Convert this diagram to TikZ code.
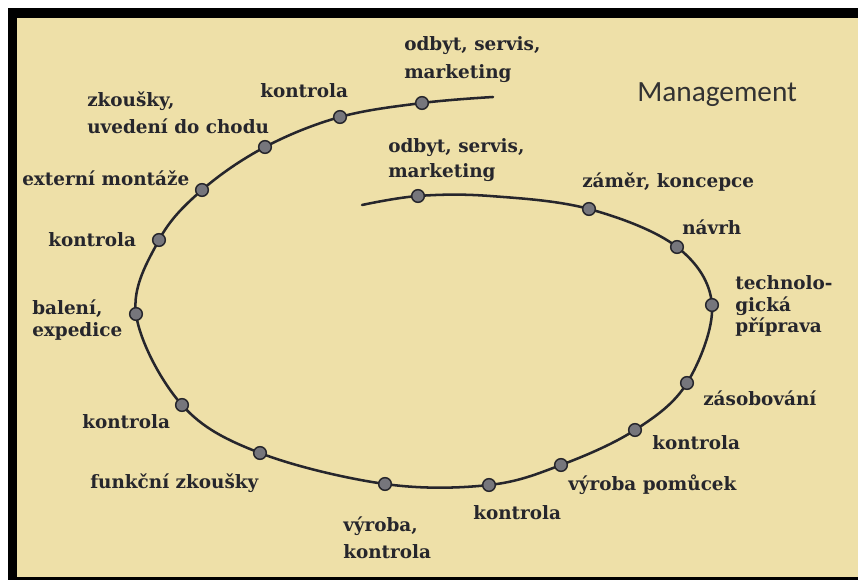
\documentclass[tikz,border=0pt]{standalone}
\usepackage{fontspec}
\setmainfont{DejaVu Serif}
\newfontfamily\mgmtfont{Carlito}
\definecolor{beige}{RGB}{238,224,168}
\definecolor{ink}{RGB}{38,38,44}
\definecolor{mgmtink}{RGB}{50,50,50}
\definecolor{dotfill}{RGB}{118,118,124}
\begin{document}
\begin{tikzpicture}[x=0.75pt,y=-0.75pt,
  lab/.style={text=ink, font=\bfseries\fontsize{13.8}{20}\selectfont, inner sep=0pt, align=left, anchor=west},
  dotn/.style={circle, draw=ink, fill=dotfill, line width=1.1pt, minimum size=9.5pt, inner sep=0pt},
  curve/.style={draw=ink, line width=1.9pt, line cap=round}]
\useasboundingbox (0,0) rectangle (858,580);
\fill[white] (0,0) rectangle (858,580);
\fill[black] (8,8) rectangle (858,580);
\fill[beige] (17,18) rectangle (858,577);

% curve points
\coordinate (s0) at (362,205);
\coordinate (d1) at (418,196);
\coordinate (c1) at (490,196);
\coordinate (d2) at (589,209);
\coordinate (d3) at (677,247);
\coordinate (d4) at (712,305);
\coordinate (d5) at (687,383);
\coordinate (d6) at (635,430);
\coordinate (d7) at (561,465);
\coordinate (d8) at (489,485);
\coordinate (d9) at (385,484);
\coordinate (d10) at (260,453);
\coordinate (d11) at (182,405);
\coordinate (d12) at (136,314);
\coordinate (d13) at (159,240);
\coordinate (d14) at (202,190);
\coordinate (d15) at (265,147);
\coordinate (d16) at (340,117);
\coordinate (d17) at (422,103);
\coordinate (e) at (493,97);

\draw[curve] plot[smooth, tension=0.6] coordinates {(s0) (d1) (c1) (d2) (d3) (d4) (d5) (d6) (d7) (d8) (d9) (d10) (d11) (d12) (d13) (d14) (d15) (d16) (d17) (e)};

\foreach \d in {d1,d2,d3,d4,d5,d6,d7,d8,d9,d10,d11,d12,d13,d14,d15,d16,d17}
  \node[dotn] (n\d) at (\d) {};

% labels
\node[lab] (l17) at (404,60) {odbyt, servis,\\[1pt]marketing};
\node[lab] (l16) at (260,91) {kontrola};
\node[lab] (l15) at (87,113) {zkoušky,\\uvedení do chodu};
\node[lab] (l14) at (22,178) {externí montáže};
\node[lab] (l13) at (48,240) {kontrola};
\node[lab] (l12) at (32,320) {balení,\\[-4pt]expedice};
\node[lab] (l11) at (82,422) {kontrola};
\node[lab] (l10) at (90,483) {funkční zkoušky};
\node[lab] (l9) at (343,538) {výroba,\\kontrola};
\node[lab] (l8) at (473,513) {kontrola};
\node[lab] (l7) at (568,485) {výroba pomůcek};
\node[lab] (l6) at (652,443) {kontrola};
\node[lab] (l5) at (703,398) {zásobování};
\node[lab] (l4) at (735,306) {technolo-\\[-4pt]gická\\[-4pt]příprava};
\node[lab] (l3) at (682,227) {návrh};
\node[lab] (l2) at (582,182) {záměr, koncepce};
\node[lab] (l1) at (388,160) {odbyt, servis,\\[-1pt]marketing};
\node[anchor=west, inner sep=0pt, text=mgmtink, font=\mgmtfont\fontsize{22}{26}\selectfont] (mgmt) at (637,95) {Management};
\end{tikzpicture}
\end{document}
